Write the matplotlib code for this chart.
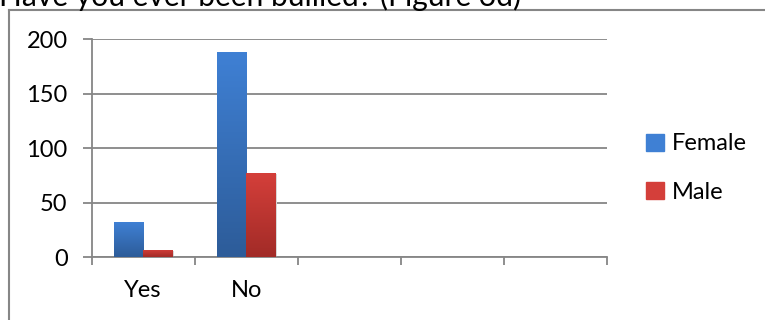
import matplotlib.pyplot as plt
import matplotlib.patches as mpatches
from matplotlib.lines import Line2D
import numpy as np

plt.rcParams['font.family'] = ['Lato', 'DejaVu Sans']

title = 'Have you ever been bullied? (Figure 3d)'
categories = ['Yes', 'No', '', '', '']
series_names = ['Female', 'Male']
female = [32, 188]
male = [7, 77]
yticks = [0, 50, 100, 150, 200]

colors = {'Female': ('#3F80D4', '#2D5C99'), 'Male': ('#D43F3A', '#A22B27')}
grid_col = '#868686'
W, H = 765, 320

fig = plt.figure(figsize=(W / 100, H / 100), dpi=100)
ax = fig.add_axes([91.7 / W, 1 - 257.3 / H, 515 / W, 218 / H])

n_cat = len(categories)
bw = 1 / 3.5  # gap width 150%
x = np.arange(len(female))
for vals, name, off in [(female, 'Female', -bw / 2), (male, 'Male', bw / 2)]:
    bars = ax.bar(x + 0.5 + off, vals, width=bw, color='none', edgecolor='none', zorder=3)
    top, bot = colors[name]
    cmap = plt.matplotlib.colors.LinearSegmentedColormap.from_list(name, [bot, top])
    for b in bars:
        # soft shadow
        sh = mpatches.Rectangle((b.get_x() + 0.012, 0), b.get_width(), b.get_height() - 1,
                                color='#d8d8d8', zorder=2, lw=0)
        ax.add_patch(sh)
        grad = np.linspace(0, 1, 100).reshape(-1, 1)
        im = ax.imshow(grad, cmap=cmap, origin='lower', aspect='auto', zorder=3,
                       extent=[b.get_x(), b.get_x() + b.get_width(), 0, b.get_height()])
        im.set_clip_path(b)

ax.set_xlim(0, n_cat)
ax.set_ylim(0, 200)
ax.set_yticks(yticks)
ax.yaxis.grid(True, color=grid_col, lw=1.3, zorder=1)
ax.set_axisbelow(True)
for s in ['top', 'right']:
    ax.spines[s].set_visible(False)
for s in ['left', 'bottom']:
    ax.spines[s].set_color(grid_col)
    ax.spines[s].set_linewidth(1.3)

ax.set_xticks(np.arange(n_cat + 1))
ax.set_xticklabels([])
ax.set_xticks(np.arange(n_cat) + 0.5, minor=True)
ax.set_xticklabels(categories, minor=True)
ax.tick_params(axis='x', which='major', length=5.5, width=1.3, color=grid_col, direction='out')
ax.tick_params(axis='x', which='minor', length=0, pad=16, labelsize=17)
ax.tick_params(axis='y', length=6.3, width=1.3, color=grid_col, pad=11, labelsize=17)

# legend
handles = [mpatches.Patch(color=colors[n][0], label=n) for n in series_names]
fig.legend(handles=handles, loc='center left', bbox_to_anchor=(625 / W, 1 - 168 / H),
           frameon=False, fontsize=17, handlelength=0.75, handleheight=0.75,
           handletextpad=0.35, labelspacing=1.15)

# chart border (left and top visible)
fig.add_artist(Line2D([9 / W, 9 / W], [0, 1 - 10 / H], color=grid_col, lw=1.5))
fig.add_artist(Line2D([9 / W, 1], [1 - 10 / H, 1 - 10 / H], color=grid_col, lw=1.5))

fig.text(-1 / W, 1 - 6 / H, title, fontsize=21.6, va='baseline', ha='left')

fig.savefig('out.png', dpi=100)
